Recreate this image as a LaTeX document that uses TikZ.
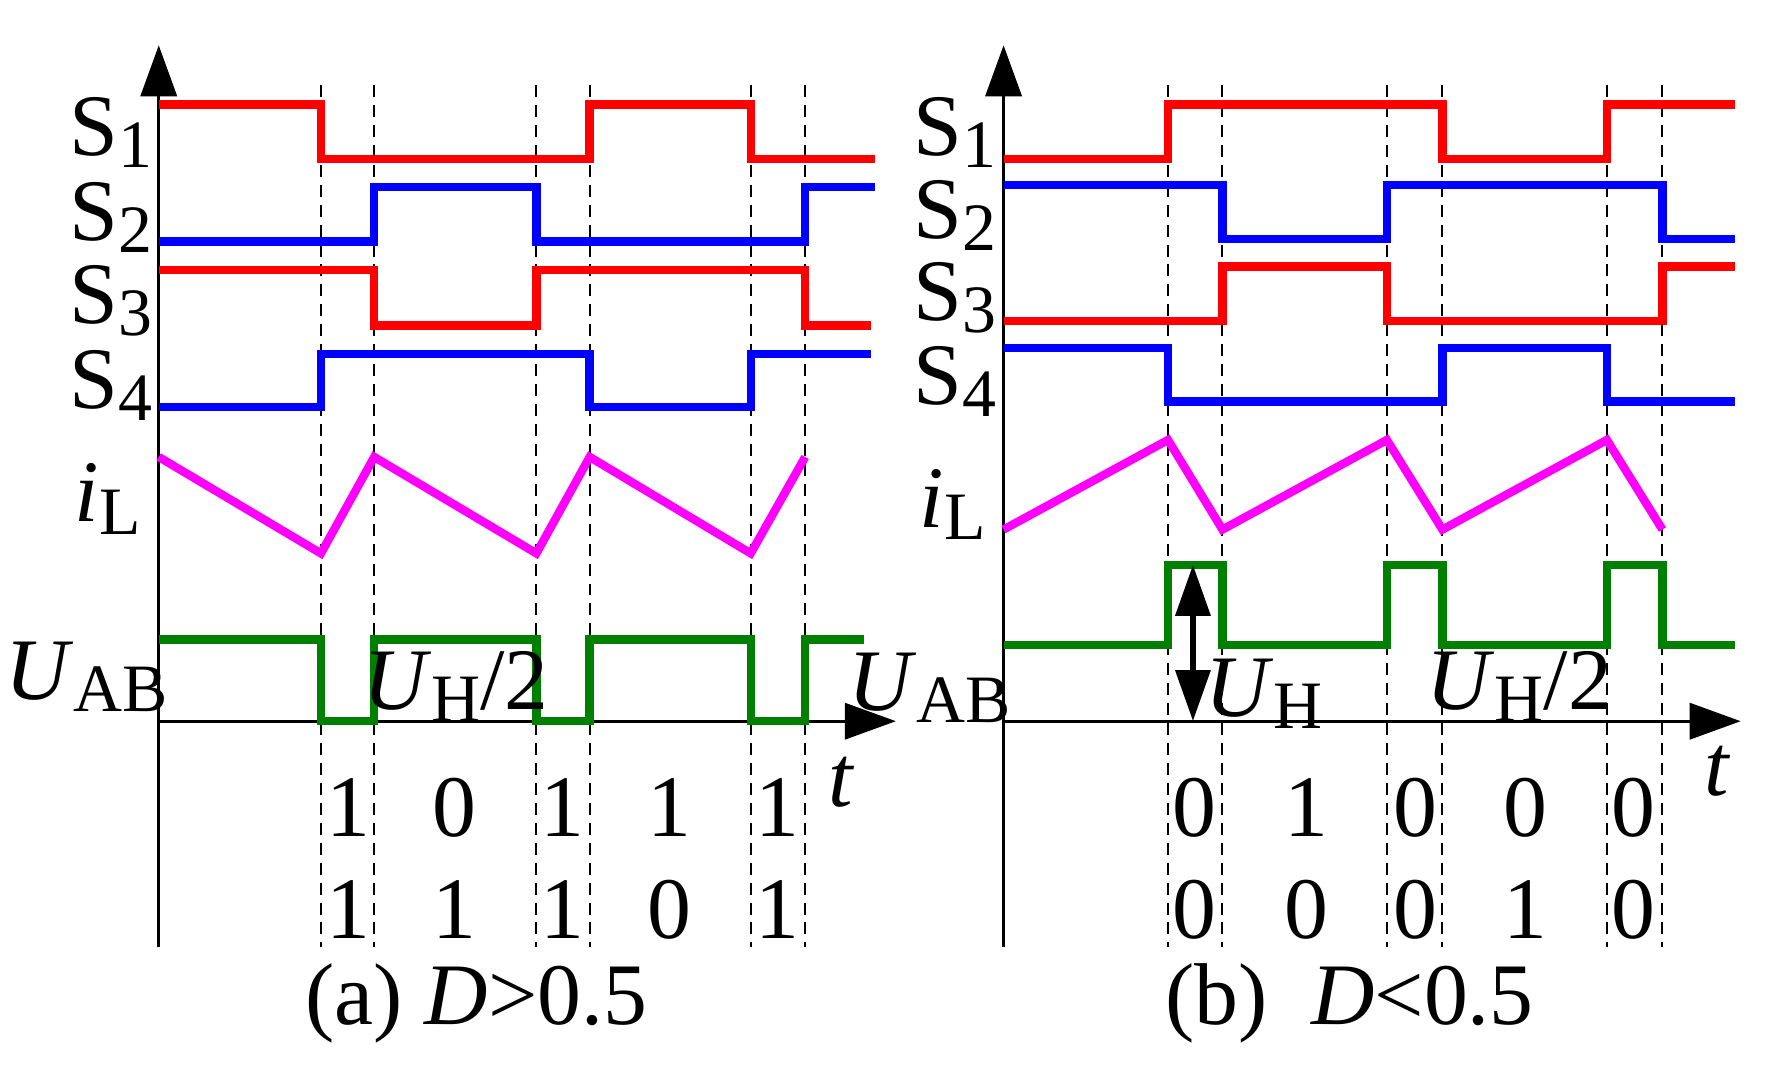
\documentclass[tikz,border=0pt]{standalone}
\usepackage{fontspec}
\setmainfont{Liberation Serif}
\usetikzlibrary{arrows.meta}
\definecolor{myred}{RGB}{255,0,0}
\definecolor{myblue}{RGB}{0,0,255}
\definecolor{mymag}{RGB}{255,0,255}
\definecolor{mygreen}{RGB}{0,128,0}
\newcommand{\sbs}[1]{\raisebox{-0.3ex}{\fontsize{17}{18}\selectfont #1}}
\begin{document}
\begin{tikzpicture}[x=0.01cm,y=-0.01cm,
  wave/.style={line width=2.1pt,line join=miter},
  ax/.style={line width=0.7pt,-{Triangle[length=0.45cm,width=0.32cm]}},
  dsh/.style={line width=0.5pt,dash pattern=on 3pt off 2pt},
  lab/.style={font=\fontsize{22}{24}\selectfont,inner sep=0pt},
  num/.style={font=\fontsize{22}{24}\selectfont,inner sep=0pt}]
\useasboundingbox (0,0) rectangle (1560,940);
% ---------- panel a ----------
\coordinate (ao) at (140,636);
\coordinate (ay) at (140,40);
\coordinate (ab) at (140,835);
\coordinate (ax) at (790,636);
\draw[ax] (ab) -- (ay);
\draw[ax] (ao) -- (ax);
\foreach \x in {283,330,473,520,662,710} \draw[dsh] (\x,75) -- (\x,835);
\draw[wave,myred] (140,92) -- (283,92) -- (283,140) -- (520,140) -- (520,92) -- (662,92) -- (662,140) -- (772,140);
\draw[wave,myblue] (140,213) -- (330,213) -- (330,165) -- (473,165) -- (473,213) -- (710,213) -- (710,165) -- (772,165);
\draw[wave,myred] (140,238) -- (330,238) -- (330,287) -- (473,287) -- (473,238) -- (710,238) -- (710,287) -- (768,287);
\draw[wave,myblue] (140,359) -- (283,359) -- (283,312) -- (520,312) -- (520,359) -- (662,359) -- (662,312) -- (768,312);
\draw[wave,mymag] (140,403) -- (283,488) -- (330,403) -- (473,488) -- (520,403) -- (662,488) -- (710,403);
\draw[wave,mygreen] (140,564) -- (283,564) -- (283,636) -- (330,636) -- (330,564) -- (473,564) -- (473,636) -- (520,636) -- (520,564) -- (662,564) -- (662,636) -- (710,636) -- (710,564) -- (762,564);
\node[lab] (aS1) at (98,117) {S\sbs{1}};
\node[lab] (aS2) at (98,192) {S\sbs{2}};
\node[lab] (aS3) at (98,265) {S\sbs{3}};
\node[lab] (aS4) at (98,340) {S\sbs{4}};
\node[lab] (aiL) at (95,440) {\textit{i}\sbs{L}};
\node[lab] (aUAB) at (76,597) {\textit{U}\sbs{AB}};
\node[lab] (aUH) at (402,605) {\textit{U}\sbs{H}/2};
\node[lab] (at) at (742,690) {\textit{t}};
\foreach \x/\a/\b [count=\i] in {307/1/1,401/0/1,496/1/1,590/1/0,686/1/1}{
  \node[num] (an\i) at (\x,712) {\a};
  \node[num] (am\i) at (\x,802) {\b};}
\node[lab] (capa) at (420,885) {(a) \textit{D}>0.5};
% ---------- panel b ----------
\coordinate (bo) at (885,636);
\coordinate (by) at (885,40);
\coordinate (bb) at (885,835);
\coordinate (bx) at (1535,636);
\draw[ax] (bb) -- (by);
\draw[ax] (bo) -- (bx);
\foreach \x in {1030,1078,1223,1272,1417,1466} \draw[dsh] (\x,75) -- (\x,835);
\draw[wave,myred] (885,140) -- (1030,140) -- (1030,92) -- (1272,92) -- (1272,140) -- (1417,140) -- (1417,92) -- (1530,92);
\draw[wave,myblue] (885,163) -- (1078,163) -- (1078,211) -- (1223,211) -- (1223,163) -- (1466,163) -- (1466,211) -- (1530,211);
\draw[wave,myred] (885,283) -- (1078,283) -- (1078,235) -- (1223,235) -- (1223,283) -- (1466,283) -- (1466,235) -- (1530,235);
\draw[wave,myblue] (885,307) -- (1030,307) -- (1030,354) -- (1272,354) -- (1272,307) -- (1417,307) -- (1417,354) -- (1530,354);
\draw[wave,mymag] (885,467) -- (1030,388) -- (1078,467) -- (1223,388) -- (1272,467) -- (1417,388) -- (1466,467);
\draw[wave,mygreen] (885,569) -- (1030,569) -- (1030,498) -- (1078,498) -- (1078,569) -- (1223,569) -- (1223,498) -- (1272,498) -- (1272,569) -- (1417,569) -- (1417,498) -- (1466,498) -- (1466,569) -- (1530,569);
\coordinate (da) at (1052,498);
\coordinate (db) at (1052,636);
\draw[line width=1.6pt,{Triangle[length=0.45cm,width=0.3cm]}-{Triangle[length=0.45cm,width=0.3cm]}] (da) -- (db);
\node[lab] (bS1) at (842,117) {S\sbs{1}};
\node[lab] (bS2) at (842,190) {S\sbs{2}};
\node[lab] (bS3) at (842,263) {S\sbs{3}};
\node[lab] (bS4) at (842,336) {S\sbs{4}};
\node[lab] (biL) at (840,445) {\textit{i}\sbs{L}};
\node[lab] (bUAB) at (820,607) {\textit{U}\sbs{AB}};
\node[lab] (bUH) at (1115,612) {\textit{U}\sbs{H}};
\node[lab] (bUH2) at (1340,605) {\textit{U}\sbs{H}/2};
\node[lab] (bt) at (1515,680) {\textit{t}};
\foreach \x/\a/\b [count=\i] in {1053/0/0,1152/1/0,1248/0/0,1345/0/1,1440/0/0}{
  \node[num] (bn\i) at (\x,712) {\a};
  \node[num] (bm\i) at (\x,802) {\b};}
\node[lab] (capb) at (1190,885) {(b)\ \ \textit{D}<0.5};
\end{tikzpicture}
\end{document}
